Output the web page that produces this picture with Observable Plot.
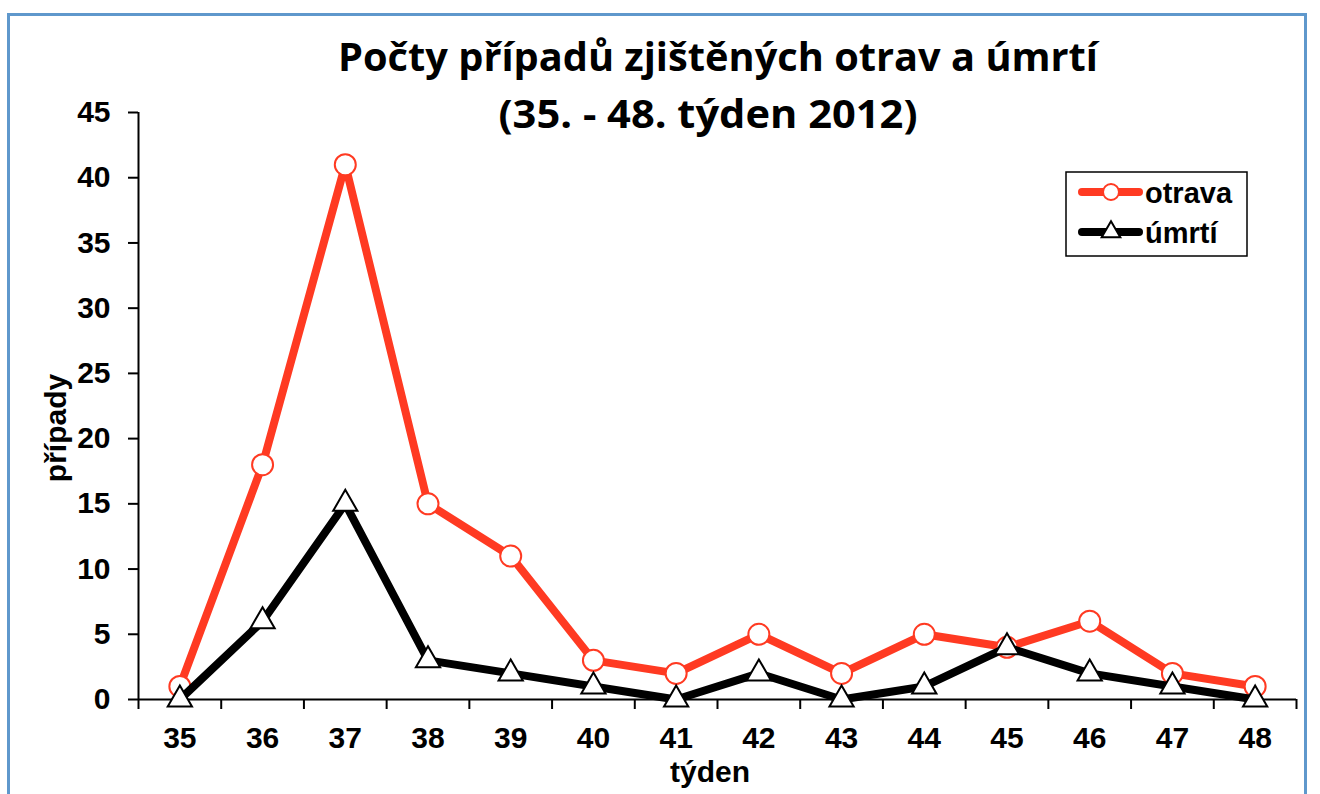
<!DOCTYPE html>
<html>
<head>
<meta charset="utf-8">
<script src="https://cdn.jsdelivr.net/npm/d3@7"></script>
<script src="https://cdn.jsdelivr.net/npm/@observablehq/plot@0.6"></script>
<style>
  html, body { margin: 0; padding: 0; background: #fff; overflow: hidden; width: 1320px; height: 794px; }
  #wrap { position: relative; width: 1320px; height: 794px; }
  #frame { position: absolute; left: 7px; top: 13px; width: 1300px; height: 900px; border: 3px solid #5f98cc; box-sizing: border-box; }
  #chart { position: absolute; left: 0; top: 0; }
  #overlay { position: absolute; left: 0; top: 0; pointer-events: none; }
</style>
</head>
<body>
<div id="wrap">
  <div id="frame"></div>
  <div id="chart"></div>
  <svg id="overlay" width="1320" height="794" xmlns="http://www.w3.org/2000/svg"></svg>
</div>
<script>
const weeks = [35, 36, 37, 38, 39, 40, 41, 42, 43, 44, 45, 46, 47, 48];
const otrava = [1, 18, 41, 15, 11, 3, 2, 5, 2, 5, 4, 6, 2, 1];
const umrti = [0, 6, 15, 3, 2, 1, 0, 2, 0, 1, 4, 2, 1, 0];
const yTicks = [0, 5, 10, 15, 20, 25, 30, 35, 40, 45];
const titleLines = ["Počty případů zjištěných otrav a úmrtí", "(35. - 48. týden 2012)"];
const xLabel = "týden";
const yLabel = "případy";
const seriesNames = ["otrava", "úmrtí"];

const RED = "#ff3a22";
const data = weeks.map((w, i) => ({ week: w, otrava: otrava[i], umrti: umrti[i] }));
const boundaries = [weeks[0] - 0.5, ...weeks.map(w => w + 0.5)];

const chart = Plot.plot({
  width: 1320,
  height: 794,
  marginLeft: 138,
  marginRight: 24,
  marginTop: 112,
  marginBottom: 95,
  style: { fontFamily: "'Liberation Sans', Arial, sans-serif", fontSize: "30px", fontWeight: "bold", color: "black", background: "transparent", overflow: "visible" },
  x: { type: "linear", domain: [boundaries[0], boundaries[boundaries.length - 1]] },
  y: { domain: [0, 45] },
  marks: [
    Plot.axisY({ ticks: yTicks, tickSize: 10, tickPadding: 18, label: null, strokeWidth: 2, fontSize: 30, fontWeight: "bold" }),
    Plot.axisX({ ticks: boundaries, tickSize: 10, tickFormat: () => "", label: null, strokeWidth: 2 }),
    Plot.axisX({ ticks: weeks, tickSize: 0, tickPadding: 27, label: null, tickFormat: d => String(d), fontSize: 30, fontWeight: "bold" }),
    Plot.ruleY([0], { strokeWidth: 2, stroke: "black" }),
    Plot.ruleX([boundaries[0]], { strokeWidth: 2, stroke: "black" }),
    Plot.line(data, { x: "week", y: "otrava", stroke: RED, strokeWidth: 8, strokeLinejoin: "miter" }),
    Plot.dot(data, { x: "week", y: "otrava", r: 10.5, fill: "white", stroke: RED, strokeWidth: 2 }),
    Plot.line(data, { x: "week", y: "umrti", stroke: "black", strokeWidth: 8, strokeLinejoin: "miter" }),
    Plot.dot(data, { x: "week", y: "umrti", symbol: "triangle", r: 9, fill: "white", stroke: "black", strokeWidth: 2 })
  ]
});
document.getElementById("chart").appendChild(chart);

// Overlay texts and legend
const ov = d3.select("#overlay");
const titleFont = "'Open Sans', Lato, sans-serif";
ov.append("text").attr("x", 718).attr("y", 71).attr("text-anchor", "middle")
  .style("font", `bold 39px ${titleFont}`).attr("textLength", 760).attr("lengthAdjust", "spacingAndGlyphs").text(titleLines[0]);
ov.append("text").attr("x", 708).attr("y", 128).attr("text-anchor", "middle")
  .style("font", `bold 39px ${titleFont}`).attr("textLength", 419).attr("lengthAdjust", "spacingAndGlyphs").text(titleLines[1]);
ov.append("text").attr("x", 710).attr("y", 782).attr("text-anchor", "middle")
  .style("font", "bold 30px 'Liberation Sans', Arial, sans-serif").text(xLabel);
ov.append("text").attr("transform", "translate(66,428) rotate(-90)").attr("text-anchor", "middle")
  .style("font", "bold 30px 'Liberation Sans', Arial, sans-serif").text(yLabel);

const lg = ov.append("g");
lg.append("rect").attr("x", 1066).attr("y", 172).attr("width", 181).attr("height", 84)
  .attr("fill", "white").attr("stroke", "black").attr("stroke-width", 1.5);
const rows = [
  { name: seriesNames[0], color: RED, y: 192, sym: "circle" },
  { name: seriesNames[1], color: "black", y: 232, sym: "triangle" }
];
rows.forEach(r => {
  lg.append("line").attr("x1", 1082).attr("x2", 1139).attr("y1", r.y).attr("y2", r.y)
    .attr("stroke", r.color).attr("stroke-width", 8).attr("stroke-linecap", "round");
  if (r.sym === "circle") {
    lg.append("circle").attr("cx", 1111).attr("cy", r.y).attr("r", 8).attr("fill", "white").attr("stroke", r.color).attr("stroke-width", 2);
  } else {
    lg.append("path").attr("d", d3.symbol(d3.symbolTriangle, 150)()).attr("transform", `translate(1111,${r.y})`)
      .attr("fill", "white").attr("stroke", "black").attr("stroke-width", 2);
  }
  lg.append("text").attr("x", 1145).attr("y", r.y + 11)
    .style("font", "bold 29px 'Liberation Sans', Arial, sans-serif").text(r.name);
});
</script>
</body>
</html>
